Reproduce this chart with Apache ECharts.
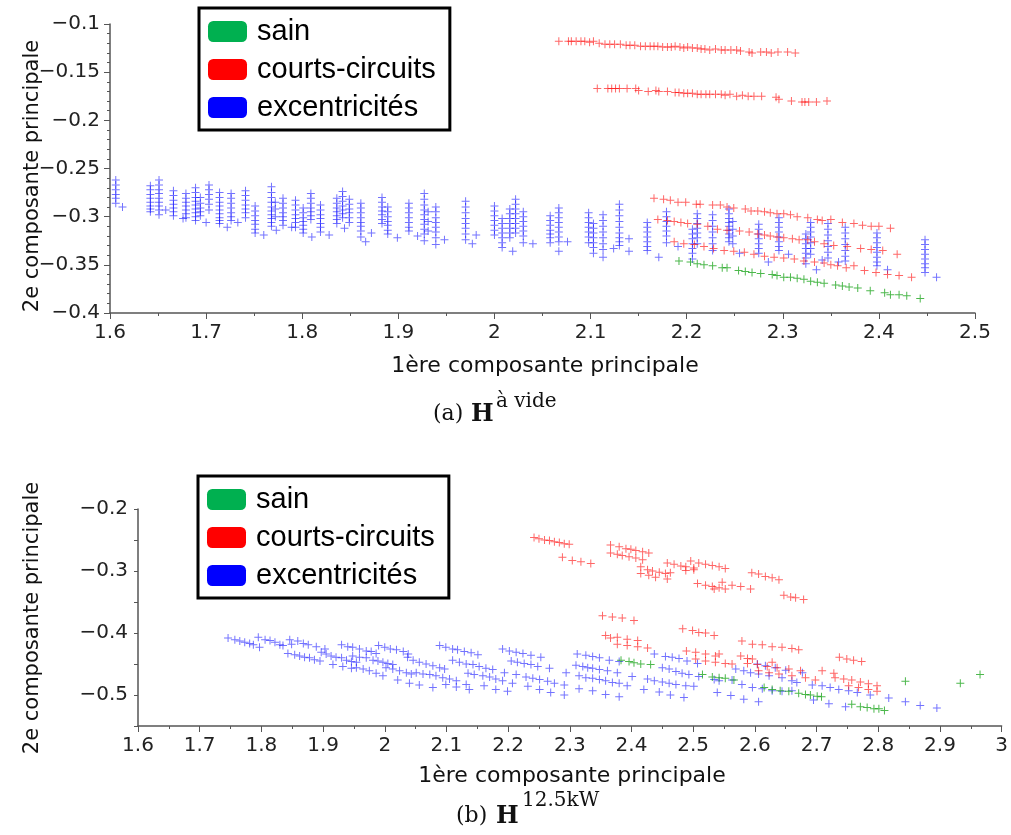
<!DOCTYPE html>
<html><head><meta charset="utf-8">
<script src="https://cdn.jsdelivr.net/npm/echarts@6/dist/echarts.min.js"></script>
<style>html,body{margin:0;padding:0;background:#fff}#c{width:1011px;height:835px}</style>
</head><body><div id="c"></div>
<script>
// ---------------- DATA ----------------
const seriesNames = ['sain', 'courts-circuits', 'excentricités'];
const xTitle = '1ère composante principale';
const yTitle = '2e composante principale';

// Chart (a): excentricités, stored as columns [x, [y...]]
const aExcCols = [
[1.606,[-0.262,-0.267,-0.272,-0.277,-0.281,-0.286]],
[1.613,[-0.290]],
[1.642,[-0.268,-0.272,-0.277,-0.281,-0.285,-0.289,-0.292,-0.295]],
[1.651,[-0.262,-0.267,-0.272,-0.276,-0.281,-0.285,-0.289,-0.293,-0.298]],
[1.658,[-0.293]],
[1.666,[-0.273,-0.278,-0.283,-0.287,-0.291,-0.295,-0.299]],
[1.676,[-0.302]],
[1.679,[-0.276,-0.281,-0.285,-0.289,-0.293,-0.297,-0.301]],
[1.689,[-0.270,-0.275,-0.280,-0.284,-0.288,-0.292,-0.296,-0.300,-0.304]],
[1.694,[-0.280,-0.286,-0.291,-0.295,-0.299]],
[1.700,[-0.306]],
[1.703,[-0.267,-0.272,-0.277,-0.282,-0.287,-0.293]],
[1.714,[-0.275,-0.280,-0.285,-0.289,-0.293,-0.297,-0.301,-0.304,-0.307]],
[1.726,[-0.276,-0.281,-0.286,-0.291,-0.296,-0.300,-0.304]],
[1.722,[-0.311]],
[1.733,[-0.306]],
[1.741,[-0.273,-0.278,-0.283,-0.288,-0.292,-0.296,-0.301]],
[1.751,[-0.289,-0.294,-0.299,-0.304,-0.308,-0.313,-0.317]],
[1.760,[-0.319]],
[1.768,[-0.269,-0.275,-0.280,-0.285,-0.290,-0.294,-0.298,-0.302,-0.306,-0.310]],
[1.772,[-0.285,-0.292,-0.300]],
[1.780,[-0.281,-0.286,-0.291,-0.296,-0.300,-0.304,-0.309]],
[1.773,[-0.314]],
[1.793,[-0.283,-0.288,-0.293,-0.298,-0.302,-0.306,-0.311]],
[1.789,[-0.311]],
[1.801,[-0.291,-0.296,-0.301,-0.305,-0.309,-0.313,-0.317]],
[1.810,[-0.321]],
[1.809,[-0.276,-0.281,-0.286,-0.291,-0.295,-0.299,-0.303]],
[1.819,[-0.288,-0.293,-0.298,-0.302,-0.307,-0.311,-0.316]],
[1.828,[-0.319]],
[1.836,[-0.281,-0.286,-0.291,-0.295,-0.299,-0.303,-0.307]],
[1.842,[-0.274,-0.279,-0.284,-0.289,-0.293,-0.297,-0.301]],
[1.849,[-0.282,-0.287,-0.292,-0.296,-0.301,-0.306]],
[1.844,[-0.312]],
[1.861,[-0.286,-0.291,-0.296,-0.301,-0.306,-0.310,-0.315,-0.321]],
[1.866,[-0.326]],
[1.872,[-0.317]],
[1.883,[-0.280,-0.285,-0.290,-0.294,-0.298,-0.303,-0.307]],
[1.889,[-0.290,-0.295,-0.300,-0.305,-0.309,-0.314,-0.318]],
[1.899,[-0.322]],
[1.911,[-0.286,-0.291,-0.296,-0.301,-0.306,-0.311,-0.315]],
[1.920,[-0.320]],
[1.927,[-0.276,-0.282,-0.288,-0.293,-0.298,-0.303,-0.308,-0.313,-0.318,-0.325]],
[1.931,[-0.295,-0.305,-0.315]],
[1.939,[-0.290,-0.295,-0.301,-0.306,-0.311,-0.316,-0.322,-0.329]],
[1.948,[-0.324]],
[1.970,[-0.284,-0.290,-0.296,-0.302,-0.307,-0.312,-0.318,-0.324]],
[1.977,[-0.328]],
[1.981,[-0.319]],
[2.000,[-0.289,-0.294,-0.299,-0.304,-0.309,-0.314,-0.319]],
[2.008,[-0.302,-0.307,-0.312,-0.317,-0.322,-0.327,-0.332]],
[2.016,[-0.292,-0.297,-0.302,-0.307,-0.312,-0.317,-0.322]],
[2.019,[-0.336]],
[2.022,[-0.282,-0.287,-0.292,-0.297,-0.302,-0.307,-0.312,-0.317]],
[2.030,[-0.295,-0.300,-0.305,-0.310,-0.315,-0.320,-0.327]],
[2.040,[-0.328]],
[2.058,[-0.299,-0.304,-0.309,-0.314,-0.318,-0.322,-0.327]],
[2.067,[-0.291,-0.296,-0.301,-0.306,-0.311,-0.316,-0.321,-0.326,-0.336]],
[2.076,[-0.326]],
[2.098,[-0.296,-0.301,-0.306,-0.311,-0.316,-0.321,-0.327]],
[2.103,[-0.307,-0.312,-0.317,-0.322,-0.327,-0.332,-0.338]],
[2.113,[-0.298,-0.304,-0.310,-0.316,-0.322,-0.328,-0.334,-0.342]],
[2.124,[-0.333]],
[2.130,[-0.287,-0.293,-0.299,-0.305,-0.311,-0.317,-0.322,-0.326,-0.330]],
[2.140,[-0.323,-0.336]],
[2.159,[-0.306,-0.311,-0.316,-0.321,-0.326,-0.331,-0.335]],
[2.171,[-0.342]],
[2.179,[-0.295,-0.300,-0.305,-0.310,-0.315,-0.320,-0.327]],
[2.191,[-0.331]],
[2.206,[-0.313,-0.318,-0.323,-0.328,-0.333,-0.338,-0.344]],
[2.211,[-0.297,-0.302,-0.307,-0.312,-0.317,-0.322,-0.328]],
[2.227,[-0.298,-0.304,-0.310,-0.316,-0.322,-0.328,-0.335]],
[2.244,[-0.292,-0.297,-0.302,-0.306,-0.310,-0.314,-0.318,-0.322,-0.326]],
[2.248,[-0.305,-0.313,-0.320,-0.328]],
[2.255,[-0.338]],
[2.275,[-0.308,-0.313,-0.318,-0.323,-0.328,-0.333,-0.338]],
[2.285,[-0.347]],
[2.296,[-0.301,-0.306,-0.311,-0.316,-0.321,-0.326,-0.331,-0.335]],
[2.306,[-0.339]],
[2.324,[-0.318,-0.323,-0.328,-0.333,-0.338,-0.343,-0.349]],
[2.329,[-0.306,-0.311,-0.316,-0.321,-0.327,-0.333,-0.339]],
[2.335,[-0.355]],
[2.347,[-0.307,-0.313,-0.319,-0.325,-0.331,-0.337,-0.343]],
[2.341,[-0.345]],
[2.365,[-0.311,-0.317,-0.323,-0.329,-0.335,-0.341,-0.346]],
[2.358,[-0.347]],
[2.398,[-0.317,-0.322,-0.327,-0.332,-0.337,-0.342,-0.347,-0.351]],
[2.409,[-0.355]],
[2.448,[-0.324,-0.329,-0.334,-0.339,-0.344,-0.349,-0.353,-0.358]],
[2.460,[-0.363]]
];

// Chart (a): courts-circuits
const aCcUpper = [
[2.067,-0.118],[2.077,-0.118],[2.080,-0.118],[2.085,-0.118],[2.090,-0.118],[2.094,-0.118],[2.099,-0.119],[2.103,-0.118],
[2.109,-0.120],[2.115,-0.121],[2.120,-0.121],[2.125,-0.121],[2.131,-0.121],[2.137,-0.122],[2.141,-0.122],[2.146,-0.122],
[2.152,-0.123],[2.157,-0.123],[2.162,-0.123],[2.166,-0.123],[2.170,-0.123],[2.175,-0.124],[2.180,-0.124],[2.184,-0.124],
[2.188,-0.123],[2.193,-0.124],[2.197,-0.125],[2.201,-0.124],[2.206,-0.125],[2.211,-0.125],[2.215,-0.126],[2.219,-0.126],
[2.224,-0.127],[2.230,-0.126],[2.236,-0.127],[2.240,-0.127],[2.246,-0.127],[2.252,-0.127],[2.256,-0.128],[2.265,-0.129],
[2.268,-0.130],[2.277,-0.129],[2.283,-0.129],[2.288,-0.130],[2.295,-0.129],[2.305,-0.129],[2.313,-0.130]
];
const aCcSecond = [
[2.107,-0.167],[2.118,-0.167],[2.122,-0.167],[2.126,-0.167],[2.130,-0.167],[2.138,-0.167],[2.147,-0.167],[2.150,-0.169],
[2.160,-0.170],[2.168,-0.169],[2.171,-0.170],[2.180,-0.170],[2.188,-0.171],[2.192,-0.171],[2.197,-0.172],[2.201,-0.172],
[2.206,-0.172],[2.211,-0.173],[2.215,-0.173],[2.220,-0.173],[2.224,-0.173],[2.230,-0.173],[2.236,-0.173],[2.240,-0.174],
[2.245,-0.173],[2.252,-0.175],[2.258,-0.174],[2.264,-0.175],[2.270,-0.175],[2.278,-0.175],[2.293,-0.176],[2.296,-0.178],
[2.309,-0.180],[2.320,-0.181],[2.323,-0.181],[2.327,-0.181],[2.335,-0.181],[2.346,-0.180]
];
const aCcLineA = [
[2.166,-0.281],[2.176,-0.282],[2.183,-0.283],[2.191,-0.285],[2.199,-0.285],[2.210,-0.287],[2.214,-0.287],[2.227,-0.288],
[2.235,-0.288],[2.242,-0.290],[2.249,-0.291],[2.261,-0.292],[2.267,-0.294],[2.274,-0.294],[2.281,-0.295],[2.287,-0.296],
[2.294,-0.297],[2.301,-0.297],[2.308,-0.298],[2.315,-0.300],[2.326,-0.301],[2.336,-0.303],[2.341,-0.304],[2.350,-0.303],
[2.362,-0.306],[2.374,-0.307],[2.383,-0.309],[2.392,-0.310],[2.400,-0.310],[2.412,-0.312]
];
const aCcLineB = [
[2.170,-0.303],[2.180,-0.304],[2.187,-0.305],[2.194,-0.306],[2.201,-0.307],[2.211,-0.308],[2.222,-0.310],[2.232,-0.313],
[2.242,-0.314],[2.255,-0.315],[2.265,-0.316],[2.274,-0.318],[2.281,-0.319],[2.287,-0.320],[2.294,-0.321],[2.301,-0.322],
[2.310,-0.323],[2.317,-0.324],[2.326,-0.324],[2.333,-0.326],[2.343,-0.328],[2.353,-0.330],[2.367,-0.331],[2.381,-0.333],
[2.392,-0.334],[2.404,-0.335],[2.419,-0.339]
];
const aCcLineC = [
[2.187,-0.326],[2.197,-0.328],[2.208,-0.329],[2.218,-0.331],[2.228,-0.333],[2.239,-0.335],[2.249,-0.336],[2.260,-0.337],
[2.270,-0.339],[2.281,-0.341],[2.291,-0.342],[2.301,-0.343],[2.312,-0.344],[2.322,-0.346],[2.333,-0.347],[2.343,-0.348],
[2.350,-0.350],[2.357,-0.351],[2.366,-0.353],[2.374,-0.351],[2.385,-0.356],[2.397,-0.358],[2.409,-0.360],[2.421,-0.361],
[2.434,-0.363]
];
// Chart (a): sain
const aSain = [
[2.192,-0.346],[2.204,-0.347],[2.211,-0.349],[2.218,-0.350],[2.227,-0.351],[2.237,-0.353],[2.242,-0.353],[2.254,-0.356],
[2.261,-0.357],[2.268,-0.358],[2.277,-0.359],[2.289,-0.360],[2.294,-0.361],[2.301,-0.363],[2.308,-0.363],[2.315,-0.364],
[2.322,-0.365],[2.329,-0.367],[2.336,-0.368],[2.343,-0.369],[2.355,-0.371],[2.362,-0.372],[2.369,-0.373],[2.378,-0.374],
[2.391,-0.377],[2.406,-0.379],[2.412,-0.381],[2.421,-0.381],[2.429,-0.382],[2.443,-0.385]
];

// Chart (b): excentricités
const bExc = [
[1.746,-0.408],[1.757,-0.411],[1.765,-0.413],[1.773,-0.415],[1.781,-0.417],[1.787,-0.419],[1.797,-0.423],
[1.795,-0.407],[1.806,-0.411],[1.814,-0.412],[1.822,-0.415],[1.830,-0.419],[1.835,-0.420],
[1.846,-0.411],[1.849,-0.418],[1.859,-0.413],[1.868,-0.417],[1.876,-0.419],[1.889,-0.422],[1.903,-0.426],
[1.843,-0.433],[1.854,-0.435],[1.862,-0.437],[1.870,-0.439],[1.878,-0.440],[1.886,-0.443],[1.895,-0.445],
[1.897,-0.431],[1.905,-0.434],[1.913,-0.437],[1.921,-0.439],[1.930,-0.440],[1.938,-0.444],[1.946,-0.446],[1.954,-0.447],
[1.916,-0.451],[1.932,-0.454],[1.946,-0.457],
[1.930,-0.419],[1.940,-0.422],[1.948,-0.423],[1.959,-0.426],[1.970,-0.429],[1.978,-0.430],[1.986,-0.433],
[1.948,-0.437],[1.959,-0.439],[1.970,-0.440],[1.981,-0.444],[1.989,-0.445],[1.997,-0.447],[2.005,-0.449],[2.013,-0.451],
[1.954,-0.456],[1.965,-0.458],[1.975,-0.461],[1.986,-0.465],[1.997,-0.469],
[2.002,-0.456],[2.013,-0.458],[2.024,-0.461],[2.035,-0.464],[2.043,-0.466],
[1.990,-0.420],[2.000,-0.423],[2.009,-0.426],[2.019,-0.427],[2.030,-0.430],[2.038,-0.434],
[2.037,-0.439],[2.046,-0.444],[2.056,-0.447],[2.067,-0.450],[2.078,-0.453],[2.089,-0.456],[2.097,-0.458],
[2.051,-0.464],[2.062,-0.466],[2.073,-0.467],[2.083,-0.469],[2.094,-0.472],[2.105,-0.474],[2.116,-0.477],
[2.021,-0.476],[2.040,-0.481],[2.056,-0.484],[2.078,-0.488],[2.099,-0.483],[2.116,-0.487],[2.132,-0.483],[2.137,-0.491],
[2.089,-0.420],[2.099,-0.423],[2.110,-0.426],[2.118,-0.427],[2.129,-0.430],[2.140,-0.432],[2.151,-0.435],
[2.110,-0.444],[2.121,-0.447],[2.132,-0.450],[2.143,-0.451],[2.153,-0.454],[2.164,-0.457],[2.175,-0.459],
[2.135,-0.465],[2.145,-0.467],[2.159,-0.469],[2.170,-0.471],[2.180,-0.474],[2.191,-0.477],[2.194,-0.464],
[2.161,-0.485],[2.180,-0.491],[2.199,-0.494],
[2.191,-0.426],[2.202,-0.429],[2.213,-0.431],[2.224,-0.433],[2.237,-0.436],[2.253,-0.439],
[2.205,-0.445],[2.215,-0.447],[2.226,-0.449],[2.237,-0.451],[2.248,-0.454],[2.267,-0.457],
[2.213,-0.467],[2.229,-0.471],[2.240,-0.473],[2.251,-0.475],[2.264,-0.478],[2.275,-0.481],
[2.207,-0.481],[2.232,-0.486],[2.251,-0.491],[2.269,-0.496],
[2.294,-0.464],[2.291,-0.484],[2.291,-0.500],
[2.312,-0.434],[2.326,-0.436],[2.337,-0.438],[2.348,-0.440],[2.364,-0.444],[2.380,-0.446],
[2.310,-0.452],[2.321,-0.454],[2.329,-0.456],[2.337,-0.457],[2.348,-0.459],[2.361,-0.461],[2.377,-0.464],
[2.315,-0.469],[2.326,-0.472],[2.337,-0.473],[2.348,-0.475],[2.358,-0.477],[2.369,-0.480],[2.380,-0.481],[2.393,-0.485],[2.401,-0.470],
[2.315,-0.490],[2.337,-0.493],[2.358,-0.499],[2.380,-0.503],
[2.437,-0.434],[2.455,-0.438],[2.466,-0.439],[2.477,-0.441],[2.490,-0.445],[2.507,-0.449],
[2.450,-0.456],[2.461,-0.458],[2.472,-0.462],[2.482,-0.465],[2.493,-0.467],[2.509,-0.470],
[2.426,-0.474],[2.437,-0.477],[2.450,-0.479],[2.461,-0.481],[2.472,-0.483],[2.488,-0.485],[2.501,-0.486],
[2.420,-0.491],[2.445,-0.495],[2.463,-0.500],[2.485,-0.504],
[2.534,-0.475],[2.542,-0.477],[2.563,-0.476],[2.539,-0.496],[2.561,-0.501],[2.582,-0.507],[2.606,-0.511],
[2.569,-0.458],[2.582,-0.461],[2.593,-0.464],[2.606,-0.466],[2.623,-0.469],[2.644,-0.472],[2.660,-0.477],
[2.579,-0.483],[2.596,-0.488],[2.612,-0.490],[2.628,-0.493],[2.644,-0.494],[2.660,-0.493],[2.668,-0.480],[2.693,-0.484],
[2.604,-0.450],[2.617,-0.453],[2.633,-0.456],[2.650,-0.460],[2.677,-0.464],
[2.695,-0.508],[2.720,-0.514],[2.747,-0.519],
[2.709,-0.485],[2.722,-0.488],[2.736,-0.491],[2.752,-0.493],[2.766,-0.496],[2.787,-0.500],[2.817,-0.505],
[2.844,-0.511],[2.868,-0.517],[2.895,-0.521]
];
// Chart (b): courts-circuits
const bCc = [
[2.242,-0.246],[2.250,-0.248],[2.259,-0.250],[2.267,-0.251],[2.275,-0.253],[2.283,-0.254],[2.291,-0.256],[2.299,-0.257],
[2.288,-0.278],[2.304,-0.283],[2.318,-0.285],[2.334,-0.288],
[2.366,-0.258],[2.380,-0.261],[2.391,-0.264],[2.399,-0.265],[2.407,-0.267],[2.418,-0.269],[2.428,-0.271],
[2.366,-0.271],[2.377,-0.273],[2.385,-0.275],[2.396,-0.277],[2.407,-0.279],[2.418,-0.282],
[2.415,-0.293],[2.426,-0.298],[2.434,-0.300],[2.445,-0.302],[2.455,-0.304],[2.415,-0.304],[2.428,-0.307],[2.439,-0.310],[2.458,-0.313],[2.463,-0.303],
[2.458,-0.287],[2.469,-0.289],[2.480,-0.292],[2.488,-0.293],[2.496,-0.284],[2.501,-0.298],[2.509,-0.287],[2.520,-0.289],
[2.531,-0.291],[2.542,-0.293],[2.552,-0.296],[2.488,-0.299],[2.501,-0.295],
[2.507,-0.320],[2.520,-0.323],[2.531,-0.325],[2.542,-0.327],[2.547,-0.318],[2.552,-0.329],[2.563,-0.323],[2.577,-0.325],[2.593,-0.329],[2.534,-0.329],
[2.595,-0.303],[2.606,-0.305],[2.617,-0.309],[2.628,-0.311],[2.639,-0.314],
[2.647,-0.339],[2.658,-0.342],[2.666,-0.343],[2.679,-0.346],
[2.353,-0.372],[2.369,-0.374],[2.385,-0.376],[2.404,-0.380],
[2.358,-0.404],[2.377,-0.407],[2.393,-0.410],[2.410,-0.412],[2.377,-0.418],[2.393,-0.420],[2.410,-0.422],[2.426,-0.424],[2.366,-0.408],
[2.483,-0.393],[2.499,-0.396],[2.509,-0.399],[2.520,-0.400],[2.534,-0.404],
[2.489,-0.429],[2.504,-0.431],[2.520,-0.434],[2.536,-0.437],[2.504,-0.442],[2.520,-0.445],[2.536,-0.447],[2.552,-0.449],
[2.563,-0.450],[2.577,-0.437],[2.588,-0.441],[2.596,-0.442],[2.542,-0.434],
[2.579,-0.413],[2.596,-0.418],[2.612,-0.419],[2.628,-0.422],[2.644,-0.423],[2.660,-0.425],[2.671,-0.427],
[2.588,-0.449],[2.604,-0.451],[2.620,-0.454],[2.636,-0.456],[2.655,-0.458],[2.674,-0.461],[2.606,-0.461],[2.623,-0.464],
[2.639,-0.466],[2.660,-0.469],[2.682,-0.472],[2.698,-0.476],[2.628,-0.447],[2.709,-0.461],[2.728,-0.465],
[2.737,-0.439],[2.749,-0.442],[2.760,-0.444],[2.773,-0.446],
[2.730,-0.472],[2.744,-0.474],[2.757,-0.476],[2.771,-0.479],[2.784,-0.482],[2.798,-0.485],
[2.752,-0.485],[2.768,-0.488],[2.784,-0.491],[2.798,-0.494]
];
// Chart (b): sain
const bSain = [
[2.383,-0.444],[2.396,-0.446],[2.404,-0.448],[2.415,-0.450],[2.431,-0.451],
[2.515,-0.467],[2.531,-0.471],[2.542,-0.472],[2.552,-0.473],[2.566,-0.476],
[2.615,-0.488],[2.628,-0.491],[2.641,-0.493],[2.655,-0.494],
[2.671,-0.497],[2.682,-0.499],[2.690,-0.500],[2.701,-0.502],[2.708,-0.503],
[2.757,-0.515],[2.771,-0.519],[2.782,-0.520],[2.793,-0.522],[2.801,-0.522],[2.810,-0.525],
[2.844,-0.478],[2.933,-0.481],[2.965,-0.467]
];

// ---------------- CHART ----------------
const aExc = aExcCols.flatMap(([x, ys]) => ys.map(y => [x, y]));
const aCc = [].concat(aCcUpper, aCcSecond, aCcLineA, aCcLineB, aCcLineC);

const CROSS = 'path://M3.5,0H4.5V3.5H8V4.5H4.5V8H3.5V4.5H0V3.5H3.5Z';
const colors = {sain: '#009a00', cc: '#ff0000', exc: '#0000ff'};
const legendColors = ['#00b050', '#ff0000', '#0000ff'];

function minus(s) { return String(s).replace('-', '\u2212'); }
function axisCommon() {
  return {
    type: 'value',
    splitLine: {show: false},
    axisLine: {show: true, onZero: false, lineStyle: {color: '#555', width: 1.5}},
    axisTick: {show: true, length: 6, lineStyle: {color: '#555', width: 1}},
    axisLabel: {fontFamily: 'DejaVu Sans', fontSize: 20, color: '#222', margin: 10, formatter: v => minus(+v.toFixed(2))}
  };
}
function sc(name, data, color, xi, op) {
  return {
    type: 'scatter', name, data, xAxisIndex: xi, yAxisIndex: xi,
    symbol: CROSS, symbolSize: 8, silent: true, animation: false,
    itemStyle: {color, opacity: op}
  };
}
function legend(left, top) {
  return {
    orient: 'vertical', left, top, selectedMode: false, z: 20,
    data: seriesNames.map((n, i) => ({name: n, icon: 'roundRect', itemStyle: {color: legendColors[i], opacity: 1}})),
    itemWidth: 39, itemHeight: 21, itemGap: 9,
    backgroundColor: '#fff', borderColor: '#000', borderWidth: 3,
    padding: [9, 14, 8, 9],
    textStyle: {fontFamily: 'Liberation Sans', fontSize: 29, color: '#000', padding: [0, 0, 0, 5]}
  };
}
function txt(x, y, text, font, rot, align) {
  return {type: 'text', x, y, rotation: rot || 0, z: 30,
    style: {text, font, fill: '#111', align: align || 'center', verticalAlign: 'middle', textAlign: align || 'center', textVerticalAlign: 'middle'}};
}

const chart = echarts.init(document.getElementById('c'), null, {renderer: 'canvas'});
chart.setOption({
  animation: false,
  backgroundColor: '#fff',
  grid: [
    {left: 110, top: 24, width: 865, height: 289},
    {left: 138, top: 509, width: 865, height: 217}
  ],
  xAxis: [
    Object.assign(axisCommon(), {gridIndex: 0, min: 1.6, max: 2.5, interval: 0.1,
      minorTick: {show: true, splitNumber: 2, length: 3, lineStyle: {color: '#555'}}}),
    Object.assign(axisCommon(), {gridIndex: 1, min: 1.6, max: 3, interval: 0.1,
      minorTick: {show: true, splitNumber: 2, length: 3, lineStyle: {color: '#555'}}})
  ],
  yAxis: [
    Object.assign(axisCommon(), {gridIndex: 0, min: -0.4, max: -0.1, interval: 0.05,
      minorTick: {show: true, splitNumber: 5, length: 3, lineStyle: {color: '#555'}}}),
    (function () {
      const a = Object.assign(axisCommon(), {gridIndex: 1, min: -0.55, max: -0.2, interval: 0.05});
      a.axisTick.length = 4;
      a.axisLabel.formatter = v => {
        const t = v * 10;
        return Math.abs(t - Math.round(t)) < 1e-6 ? minus(+v.toFixed(1)) : '';
      };
      return a;
    })()
  ],
  legend: [legend(199, 8), legend(198, 476)],
  series: [
    sc('excentricités', aExc, colors.exc, 0, 0.55),
    sc('courts-circuits', aCc, colors.cc, 0, 0.6),
    sc('sain', aSain, colors.sain, 0, 0.7),
    sc('excentricités', bExc, colors.exc, 1, 0.55),
    sc('courts-circuits', bCc, colors.cc, 1, 0.6),
    sc('sain', bSain, colors.sain, 1, 0.7)
  ],
  graphic: [
    txt(545, 366, xTitle, '22px DejaVu Sans'),
    txt(33, 176, yTitle, '21px DejaVu Sans', Math.PI / 2),
    txt(572, 776, xTitle, '22px DejaVu Sans'),
    txt(33, 618, yTitle, '21px DejaVu Sans', Math.PI / 2),
    txt(433, 414, '(a)', '22px DejaVu Serif', 0, 'left'),
    txt(471, 415, 'H', 'bold 24px DejaVu Serif', 0, 'left'),
    txt(496, 402, 'à vide', '20px DejaVu Serif', 0, 'left'),
    txt(456, 816, '(b)', '22px DejaVu Serif', 0, 'left'),
    txt(496, 817, 'H', 'bold 24px DejaVu Serif', 0, 'left'),
    txt(522, 801, '12.5kW', '20px DejaVu Serif', 0, 'left')
  ]
});
</script></body></html>
